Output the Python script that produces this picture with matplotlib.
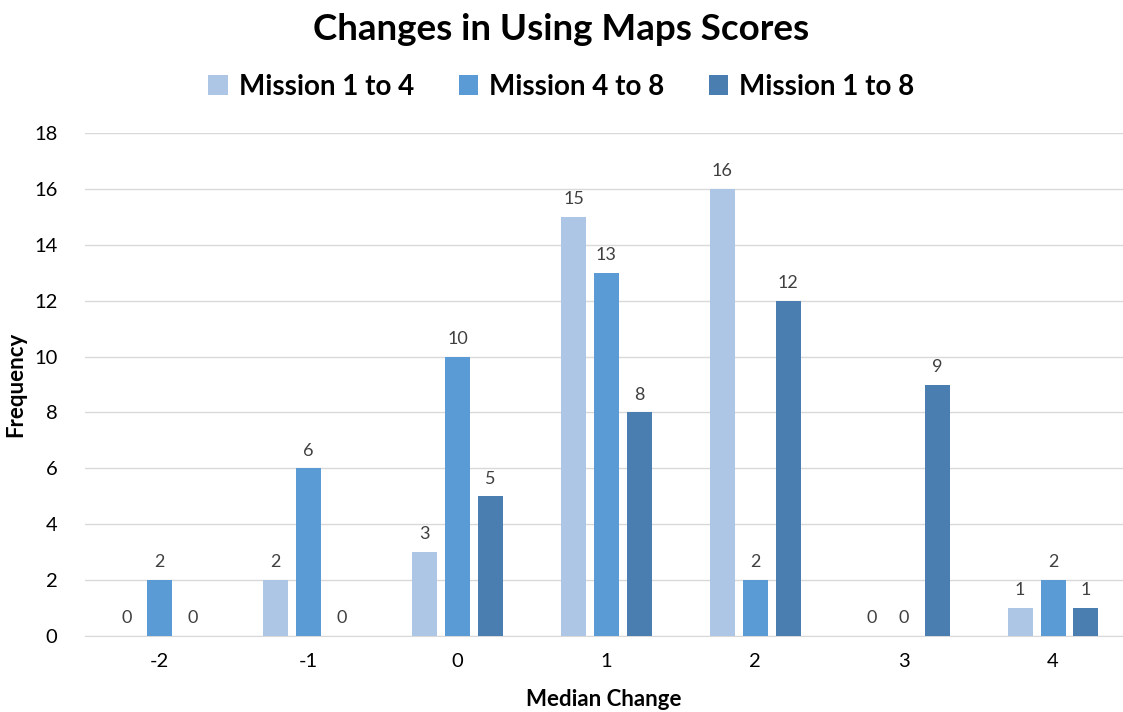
import matplotlib.pyplot as plt
import numpy as np

# data
categories = ['-2', '-1', '0', '1', '2', '3', '4']
series_names = ['Mission 1 to 4', 'Mission 4 to 8', 'Mission 1 to 8']
m1_to_4 = [0, 2, 3, 15, 16, 0, 1]
m4_to_8 = [2, 6, 10, 13, 2, 0, 2]
m1_to_8 = [0, 0, 5, 8, 12, 9, 1]
colors = ['#AEC6E6', '#5B9BD5', '#4A7EB0']

plt.rcParams['font.family'] = ['Lato', 'DejaVu Sans']

fig = plt.figure(figsize=(11.23, 7.12), dpi=100)
ax = fig.add_axes([0.076, 0.1067, 0.924, 0.7065])

x = np.arange(len(categories))
width = 0.168
offset = 0.221
for i, (vals, name, col) in enumerate(zip([m1_to_4, m4_to_8, m1_to_8], series_names, colors)):
    bars = ax.bar(x + (i - 1) * offset, vals, width, color=col, label=name, zorder=3)
    for b, v in zip(bars, vals):
        ax.annotate(str(v), (b.get_x() + b.get_width() / 2, v), xytext=(0, 7),
                    textcoords='offset points', ha='center', va='bottom',
                    fontsize=13, color='#404040')

ax.set_xlim(-0.5, 6.47)
ax.set_ylim(0, 18)
ax.set_yticks(range(0, 19, 2))
ax.set_xticks(x)
ax.set_xticklabels(categories)
ax.tick_params(axis='both', length=0, labelsize=14.5, colors='#000000')
ax.tick_params(axis='x', pad=12)
ax.tick_params(axis='y', pad=20)
ax.grid(axis='y', color='#D9D9D9', linewidth=1, zorder=0)
for s in ['top', 'right', 'left']:
    ax.spines[s].set_visible(False)
ax.spines['bottom'].set_color('#D9D9D9')

ax.set_ylabel('Frequency', fontsize=16, fontweight='bold', labelpad=6)
ax.set_xlabel('Median Change', fontsize=16, fontweight='bold', labelpad=14)

fig.text(0.5, 0.958, 'Changes in Using Maps Scores', ha='center', va='center',
         fontsize=26.5, fontweight='bold')
fig.legend(loc='center', bbox_to_anchor=(0.5, 0.878), ncol=3, frameon=False,
           prop={'weight': 'bold', 'size': 20},
           handlelength=0.7, handleheight=0.7, handletextpad=0.4, columnspacing=1.6)

fig.savefig('out.png', dpi=100)
